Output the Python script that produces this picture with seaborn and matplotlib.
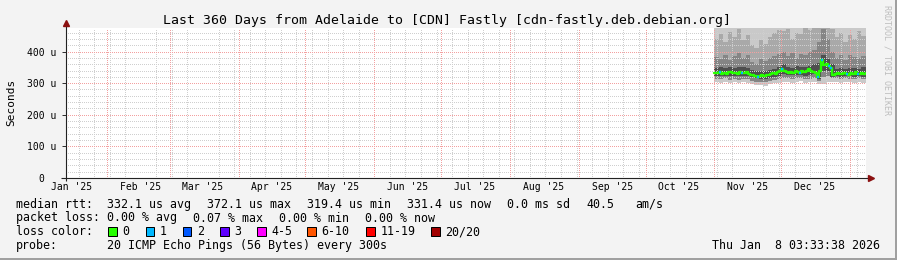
import numpy as np
import pandas as pd
import matplotlib
matplotlib.use("Agg")
import matplotlib.pyplot as plt
import matplotlib.dates as mdates
from matplotlib.ticker import MultipleLocator, FixedLocator
from matplotlib.patches import Rectangle
import seaborn as sns

# ---------------- data ----------------
title = "Last 360 Days from Adelaide to [CDN] Fastly [cdn-fastly.deb.debian.org]"
t_end = pd.Timestamp("2026-01-08 03:33:38")
t_start = t_end - pd.Timedelta(days=360)
data_start = "2025-11-01"

# daily median RTT (microseconds), Nov 1 2025 .. Jan 8 2026
median_us = [331, 333, 336, 330, 332, 329, 334, 335, 331, 333,
             330, 334, 333, 331, 334, 329, 327, 325, 323, 321,
             322, 325, 323, 327, 326, 329, 331, 330, 334, 338,
             346, 337, 335, 333, 336, 332, 338, 334, 331, 337,
             335, 339, 346, 340, 336, 331, 319.4, 340, 372.1, 357,
             361, 353, 348, 327, 329, 331, 328, 330, 332, 330,
             327, 331, 329, 334, 330, 328, 332, 329, 331.4]
# lost pings (of 20) per day
loss_count = [0, 0, 1, 0, 0, 0, 0, 0, 0, 0,
              0, 0, 1, 0, 0, 0, 0, 0, 0, 1,
              0, 0, 0, 0, 0, 0, 0, 0, 0, 0,
              1, 0, 0, 0, 0, 0, 0, 0, 1, 0,
              0, 0, 0, 0, 0, 0, 1, 0, 1, 0,
              0, 1, 1, 0, 0, 0, 0, 0, 0, 1,
              0, 0, 0, 0, 1, 0, 0, 0, 0]

# smoke (ping distribution) edges, 2-day steps from Nov 1 2025 (microseconds)
smoke_lo_outer = [304, 302, 305, 301, 303, 300, 304, 302,
                  296, 293, 295, 292, 297, 299, 301,
                  303, 305, 302, 304, 306, 301, 303, 304,
                  296, 298, 305, 303,
                  304, 302, 305, 303, 301, 304, 302, 304]
smoke_lo_mid = [314, 312, 315, 311, 313, 310, 314, 312,
                306, 304, 305, 303, 307, 309, 312,
                315, 316, 313, 315, 317, 312, 314, 315,
                306, 318, 322, 316,
                315, 313, 316, 314, 312, 315, 313, 315]
smoke_lo_inner = [323, 324, 324, 323, 324, 322, 323, 324,
                  318, 315, 314, 313, 317, 320, 324,
                  328, 326, 325, 326, 325, 324, 327, 328,
                  312, 338, 340, 320,
                  322, 321, 323, 322, 320, 323, 321, 322]
smoke_hi_inner = [348, 350, 347, 352, 349, 351, 350, 348,
                  342, 338, 340, 339, 343, 346, 350,
                  360, 352, 349, 353, 350, 352, 355, 360,
                  365, 390, 375, 362,
                  346, 348, 345, 349, 347, 346, 350, 347]
smoke_hi_mid2 = [382, 376, 390, 372, 385, 395, 378, 388,
                 368, 362, 375, 370, 380, 386, 392,
                 398, 385, 396, 380, 392, 388, 398, 405,
                 430, 470, 440, 400,
                 380, 388, 374, 390, 382, 378, 386, 380]
smoke_hi_mid = [440, 455, 430, 462, 445, 470, 438, 452,
                420, 410, 435, 425, 445, 460, 468,
                465, 472, 440, 460, 455, 475, 468, 490,
                520, 540, 510, 470,
                445, 460, 430, 452, 440, 465, 448, 455]
smoke_hi_outer = [560, 580, 550, 600, 570, 610, 555, 575,
                  540, 530, 560, 545, 570, 590, 600,
                  575, 610, 560, 590, 580, 620, 640, 600,
                  680, 720, 660, 610,
                  570, 590, 555, 580, 565, 600, 575, 585]

y_ticks = [0, 100, 200, 300, 400]
y_tick_labels = ["0  ", "100 u", "200 u", "300 u", "400 u"]

loss_labels = ["0", "1", "2", "3", "4-5", "6-10", "11-19", "20/20"]
loss_colors = ["#26ff00", "#00b8ff", "#0059ff", "#5e00ff",
               "#ff00ff", "#ff5500", "#ff0000", "#a10000"]

line1 = ["median rtt:", "332.1 us avg", "372.1 us max", "319.4 us min",
         "331.4 us now", "0.0 ms sd", "40.5", "am/s"]
line2 = ["packet loss:", "0.00 % avg", "0.07 % max", "0.00 % min", "0.00 % now"]
probe_text = "20 ICMP Echo Pings (56 Bytes) every 300s"
stamp = "Thu Jan  8 03:33:38 2026"
watermark = "RRDTOOL / TOBI OETIKER"


def loss_bucket(n):
    if n <= 3:
        return n
    if n <= 5:
        return 4
    if n <= 10:
        return 5
    if n <= 19:
        return 6
    return 7


# ---------------- figure ----------------
sns.set_theme(style="white")
plt.rcParams["font.family"] = ["DejaVu Sans Mono"]

W, H = 897, 260
fig = plt.figure(figsize=(W / 100, H / 100), dpi=100, facecolor="#f3f3f3")
L, R, T, B = 65.5, 866, 27.5, 178
ax = fig.add_axes([L / W, (H - B) / H, (R - L) / W, (B - T) / H])
ax.set_facecolor("white")

days = pd.date_range(data_start, periods=len(median_us), freq="D")
smoke_days = pd.date_range(data_start, periods=len(smoke_lo_outer), freq="2D")
xs = list(smoke_days) + [t_end]


def ext(a):
    return list(a) + [a[-1]]


bands = [(smoke_lo_outer, smoke_hi_outer, "#c9c9c9"),
         (smoke_lo_mid, smoke_hi_mid, "#a9a9a9"),
         (smoke_lo_mid, smoke_hi_mid2, "#858585"),
         (smoke_lo_inner, smoke_hi_inner, "#4e4e4e")]
for i, (lo, hi, col) in enumerate(bands):
    ax.fill_between(xs, ext(lo), ext(hi), step="post", color=col, lw=0,
                    zorder=1 + 0.1 * i)

x_med = list(days) + [t_end]
y_med = ext(median_us)
sns.lineplot(x=x_med, y=y_med, drawstyle="steps-post", color=loss_colors[0],
             lw=1.7, ax=ax, zorder=5)
one_day = pd.Timedelta(days=1)
for d, v, n in zip(days, median_us, loss_count):
    if n > 0:
        ax.hlines(v, d, min(d + one_day, t_end), colors=loss_colors[loss_bucket(n)],
                  lw=1.7, zorder=6)

ax.set_xlim(t_start, t_end)
ax.set_ylim(0, 476)
ax.set_xlabel("")
ax.set_ylabel("")

ax.yaxis.set_major_locator(FixedLocator(y_ticks))
ax.set_yticklabels(y_tick_labels)
ax.yaxis.set_minor_locator(MultipleLocator(20))
ax.xaxis.set_major_locator(mdates.MonthLocator(bymonthday=16))
ax.xaxis.set_major_formatter(mdates.DateFormatter("%b '%y"))
ax.xaxis.set_minor_locator(mdates.WeekdayLocator(byweekday=mdates.SU))

ax.set_axisbelow(False)
ax.grid(False)
ax.grid(which="minor", axis="both", color="#cfcfcf", ls=(0, (1, 2)), lw=0.72,
        antialiased=False)
ax.grid(which="major", axis="y", color="#f3a0a0", ls=(0, (1, 2)), lw=0.72,
        antialiased=False)
month_starts = pd.date_range("2025-02-01", "2026-01-01", freq="MS")
ax.vlines(month_starts, 0, 476, colors="#f3a0a0", linestyles=(0, (1, 2)),
          lw=0.72, zorder=2.6, antialiased=False)

for s in ax.spines.values():
    s.set_visible(False)
ax.tick_params(axis="x", which="both", length=0, pad=3.2, labelsize=7,
               labelcolor="black", bottom=True)
ax.tick_params(axis="y", which="major", length=3, width=0.72, color="#333333",
               direction="out", pad=3.6, labelsize=7, labelcolor="black", left=True)
ax.tick_params(axis="y", which="minor", length=0)

# ---------------- overlay (pixel coordinates) ----------------
ov = fig.add_axes([0, 0, 1, 1], zorder=10)
ov.set_xlim(0, W)
ov.set_ylim(H, 0)
ov.axis("off")

# frame shading
ov.add_patch(Rectangle((0, H - 2.5), W, 2.5, color="#a0a0a0", lw=0))
ov.add_patch(Rectangle((W - 2.5, 0), 2.5, H, color="#a0a0a0", lw=0))

# axes lines + arrows
ov.plot([61, 868], [178, 178], color="#222222", lw=0.8, solid_capstyle="butt")
ov.plot([66, 66], [181, 24], color="#222222", lw=0.8, solid_capstyle="butt")
ov.plot([66], [22.5], marker="^", ms=4.5, color="#8b1010", mec="#8b1010")
ov.plot([870.5], [178], marker=">", ms=4.5, color="#8b1010", mec="#8b1010")

ov.text(447, 24, title, fontsize=9.57, ha="center", va="baseline", color="black")
ov.text(11, 102.7, "Seconds", fontsize=8, rotation=90, ha="center", va="center",
        color="black")
ov.text(887.5, 5, watermark, fontsize=6, rotation=270, ha="center", va="top",
        color="#bdbdbd")

fs = 8.4
base = [207.7, 221.5, 235.3, 249.2]
x1 = [16, 107.3, 207.3, 307.3, 407, 507, 586, 635]
for xx, s in zip(x1, line1):
    ov.text(xx, base[0], s, fontsize=fs, ha="left", va="baseline", color="black")
x2 = [16, 107.3, 193.3, 279.3, 365.3]
for xx, s in zip(x2, line2):
    ov.text(xx, base[1], s, fontsize=fs, ha="left", va="baseline", color="black")
ov.text(16, base[2], "loss color:", fontsize=fs, ha="left", va="baseline", color="black")
box_x = [108.3, 145.7, 182.7, 220, 257, 307.3, 366, 431]
for bx, lab, col in zip(box_x, loss_labels, loss_colors):
    ov.add_patch(Rectangle((bx, 227.2), 8.5, 8.5, facecolor=col, edgecolor="black",
                           lw=0.72))
    ov.text(bx + 14.3, base[2], lab, fontsize=fs, ha="left", va="baseline",
            color="black")
ov.text(16, base[3], "probe:", fontsize=fs, ha="left", va="baseline", color="black")
ov.text(107.3, base[3], probe_text, fontsize=fs, ha="left", va="baseline", color="black")
ov.text(880, base[3], stamp, fontsize=fs, ha="right", va="baseline", color="black")

fig.savefig("out.png", dpi=100, facecolor=fig.get_facecolor())
